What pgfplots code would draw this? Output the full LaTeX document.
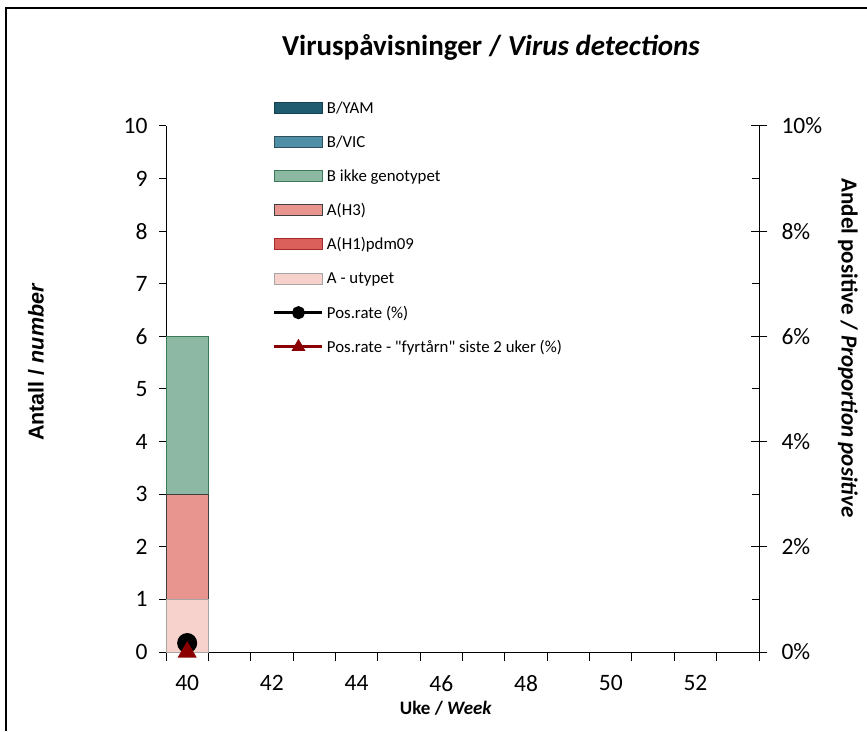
\documentclass[border=0pt]{standalone}
\usepackage{pgfplots}
\pgfplotsset{compat=1.18}
\usepackage{fontspec}
\setmainfont{Carlito}[Ligatures=TeXOff]
\newfontfamily\arialfont{Liberation Sans}
\definecolor{byam}{HTML}{1F5C70}
\definecolor{byamd}{HTML}{163F4E}
\definecolor{bvic}{HTML}{4E8FA6}
\definecolor{bvicd}{HTML}{2E4F5C}
\definecolor{bik}{HTML}{8CB8A4}
\definecolor{bikd}{HTML}{3B7A57}
\definecolor{hthree}{HTML}{E8958F}
\definecolor{hthreed}{HTML}{404040}
\definecolor{hone}{HTML}{DB5F5B}
\definecolor{honed}{HTML}{A52A2A}
\definecolor{autyp}{HTML}{F7D2CD}
\definecolor{autypd}{HTML}{A6A6A6}
\definecolor{fyr}{HTML}{8B0000}
\pgfplotsset{
  barleg/.style={legend image code/.code={\draw[line width=1pt,##1] (0pt,-5.5pt) rectangle (48pt,5.5pt);}},
  lineleg/.style={legend image code/.code={\draw[##1] (0pt,0pt) -- (48pt,0pt); \draw[##1] plot coordinates {(24pt,0pt)};}},
}
\begin{document}
\begin{tikzpicture}
\path[use as bounding box] (0pt,0pt) rectangle (867pt,731pt);
\draw[line width=2pt] (6pt,0pt) -- (6pt,723pt) -- (867pt,723pt);
\begin{axis}[
  at={(166pt,79pt)}, anchor=south west, scale only axis,
  width=593pt, height=526pt,
  xmin=39.5, xmax=53.5, ymin=0, ymax=10,
  axis x line*=bottom, axis y line*=left,
  axis line style={line width=1pt, -},
  ybar stacked, bar width=1, bar shift=0pt,
  xtick={40,42,...,52},
  minor xtick={39.5,40.5,...,53.5},
  major x tick style={draw=none},
  ytick={0,1,...,10},
  tick align=outside,
  major tick length=7pt, minor tick length=9pt,
  every tick/.style={black, line width=1pt},
  /pgf/number format/assume math mode=true,
  ticklabel style={font=\fontsize{23.5}{26}\selectfont},
  yticklabel style={xshift=-8pt},
  xticklabel style={yshift=-13pt},
  xlabel={\bfseries Uke / \textit{Week}},
  xlabel style={font=\fontsize{19}{22}\selectfont, at={(axis description cs:0.472,-0.1065)}, anchor=center},
  ylabel={\arialfont\bfseries Antall / \textit{number}},
  ylabel style={font=\fontsize{21.5}{24}\selectfont, at={(axis description cs:-0.219,0.551)}, anchor=center},
  legend cell align=left,
  legend style={draw=none, fill=none, inner sep=0pt, outer sep=0pt,
    at={(rel axis cs:0.1804,1.0665)}, anchor=north west,
    font=\fontsize{16.8}{20}\selectfont,
    nodes={inner xsep=3pt, inner ysep=0pt, minimum height=34.1pt}, row sep=0pt},
]
\addplot[forget plot, fill=autyp, draw=autypd, line width=1pt] coordinates {(40,1)};
\addplot[forget plot, fill=hone, draw=none] coordinates {(40,0)};
\addplot[forget plot, fill=hthree, draw=hthreed, line width=1pt] coordinates {(40,2)};
\addplot[forget plot, fill=bik, draw=bikd, line width=1pt] coordinates {(40,3)};
\addplot[forget plot, fill=bvic, draw=none] coordinates {(40,0)};
\addplot[forget plot, fill=byam, draw=none] coordinates {(40,0)};
\addlegendimage{barleg, fill=byam, draw=byamd}
\addlegendentry{B/YAM}
\addlegendimage{barleg, fill=bvic, draw=bvicd}
\addlegendentry{B/VIC}
\addlegendimage{barleg, fill=bik, draw=bikd}
\addlegendentry{B ikke genotypet}
\addlegendimage{barleg, fill=hthree, draw=hthreed}
\addlegendentry{A(H3)}
\addlegendimage{barleg, fill=hone, draw=honed}
\addlegendentry{A(H1)pdm09}
\addlegendimage{barleg, fill=autyp, draw=autypd}
\addlegendentry{A - utypet}
\addlegendimage{lineleg, black, line width=3pt, mark=*, mark size=5pt}
\addlegendentry{Pos.rate (\%)}
\addlegendimage{lineleg, fyr, line width=3pt, mark=triangle*, mark size=5pt}
\addlegendentry{Pos.rate - "fyrtårn" siste 2 uker (\%)}
\end{axis}
\begin{axis}[
  at={(166pt,79pt)}, anchor=south west, scale only axis,
  width=593pt, height=526pt,
  xmin=39.5, xmax=53.5, ymin=0, ymax=10,
  hide x axis,
  axis y line*=right,
  axis line style={line width=1pt, -},
  ytick={0,2,...,10},
  minor ytick={1,3,...,9},
  tick align=inside,
  major tick length=16pt, minor tick length=7pt,
  every tick/.style={black, line width=1pt},
  major y tick style={xshift=8pt},
  /pgf/number format/assume math mode=true,
  yticklabel={\pgfmathprintnumber{\tick}\%},
  ticklabel style={font=\fontsize{23.5}{26}\selectfont},
  yticklabel style={xshift=19pt},
  ylabel={\bfseries Andel positive / \textit{Proportion positive}},
  ylabel style={font=\fontsize{23}{26}\selectfont, at={(axis description cs:1.150,0.578)}, anchor=center, rotate=180},
]
\addplot[black, line width=3pt, mark=*, mark size=8.5pt] coordinates {(40,0.17)};
\addplot[fyr, line width=3pt, mark=triangle*, mark size=8pt] coordinates {(40,0)};
\end{axis}
\node[font=\fontsize{29}{32}\selectfont\bfseries] at (491pt,684pt) {Viruspåvisninger / \textit{Virus detections}};
\end{tikzpicture}
\end{document}
